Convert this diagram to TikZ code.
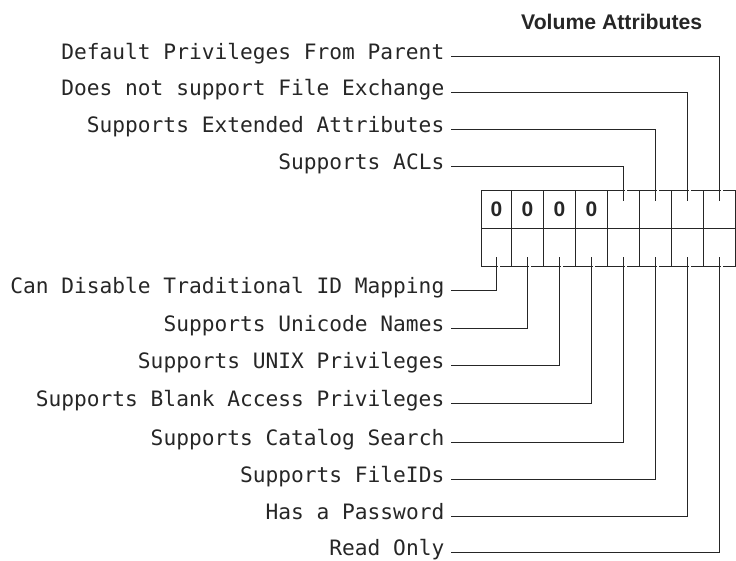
\documentclass[tikz,border=0pt]{standalone}
\usepackage{fontspec}
\setmainfont{Liberation Sans}
\newfontfamily\monof{DejaVu Sans Mono}
\definecolor{ink}{HTML}{262626}
\begin{document}
\begin{tikzpicture}[x=1pt,y=-1pt,
  cell/.style={draw=ink, line width=1.1pt, outer sep=0pt, inner sep=0pt,
    minimum height=38pt, minimum width=32pt, text=ink,
    font=\fontsize{21}{21}\selectfont\bfseries},
  lab/.style={anchor=mid east, inner xsep=6.5pt, inner ysep=0pt, text=ink,
    font=\monof\fontsize{21.2}{24}\selectfont},
  wire/.style={draw=ink, line width=1.1pt},
  gap/.style={draw=white, line width=2pt}]
\useasboundingbox (0,0) rectangle (736,560);

% title
\node[anchor=base, text=ink, font=\fontsize{21.2}{24}\selectfont\bfseries]
  (title) at (611.7,29.3) {Volume Attributes};

% register cells
\node[cell, minimum width=30pt] (a1) at (496.5,209.5) {0};
\node[cell] (a2) at (527.5,209.5) {0};
\node[cell] (a3) at (559.5,209.5) {0};
\node[cell] (a4) at (591.5,209.5) {0};
\node[cell] (a5) at (623.5,209.5) {};
\node[cell] (a6) at (655.5,209.5) {};
\node[cell] (a7) at (687.5,209.5) {};
\node[cell] (a8) at (719.5,209.5) {};
\node[cell, minimum width=30pt] (b1) at (496.5,247.5) {};
\node[cell] (b2) at (527.5,247.5) {};
\node[cell] (b3) at (559.5,247.5) {};
\node[cell] (b4) at (591.5,247.5) {};
\node[cell] (b5) at (623.5,247.5) {};
\node[cell] (b6) at (655.5,247.5) {};
\node[cell] (b7) at (687.5,247.5) {};
\node[cell] (b8) at (719.5,247.5) {};

% small breaks in the border beside each crossing
\foreach \c in {a5,a6,a7,a8}
  \draw[gap] ([xshift=1.4pt]\c.north) -- ([xshift=3.6pt]\c.north);
\foreach \c in {b1,b2,b3,b4,b5,b6,b7,b8}
  \draw[gap] ([xshift=1.4pt]\c.south) -- ([xshift=3.6pt]\c.south);

% upper labels
\node[lab] (t1) at (451,56.5)  {Default Privileges From Parent};
\node[lab] (t2) at (451,92.5)  {Does not support File Exchange};
\node[lab] (t3) at (451,129.5) {Supports Extended Attributes};
\node[lab] (t4) at (451,166.5) {Supports ACLs};

% lower labels
\node[lab] (s1) at (451,290.5) {Can Disable Traditional ID Mapping};
\node[lab] (s2) at (451,328.5) {Supports Unicode Names};
\node[lab] (s3) at (451,365.5) {Supports UNIX Privileges};
\node[lab] (s4) at (451,403.5) {Supports Blank Access Privileges};
\node[lab] (s5) at (451,442.5) {Supports Catalog Search};
\node[lab] (s6) at (451,479.5) {Supports FileIDs};
\node[lab] (s7) at (451,516.5) {Has a Password};
\node[lab] (s8) at (451,552.5) {Read Only};

% connectors
\draw[wire] (t1.mid east) -| ([yshift=-10pt]a8.north);
\draw[wire] (t2.mid east) -| ([yshift=-10pt]a7.north);
\draw[wire] (t3.mid east) -| ([yshift=-10pt]a6.north);
\draw[wire] (t4.mid east) -| ([yshift=-10pt]a5.north);
\draw[wire] (s1.mid east) -| ([yshift=10pt]b1.south);
\draw[wire] (s2.mid east) -| ([yshift=10pt]b2.south);
\draw[wire] (s3.mid east) -| ([yshift=10pt]b3.south);
\draw[wire] (s4.mid east) -| ([yshift=10pt]b4.south);
\draw[wire] (s5.mid east) -| ([yshift=10pt]b5.south);
\draw[wire] (s6.mid east) -| ([yshift=10pt]b6.south);
\draw[wire] (s7.mid east) -| ([yshift=10pt]b7.south);
\draw[wire] (s8.mid east) -| ([yshift=10pt]b8.south);
\end{tikzpicture}
\end{document}
